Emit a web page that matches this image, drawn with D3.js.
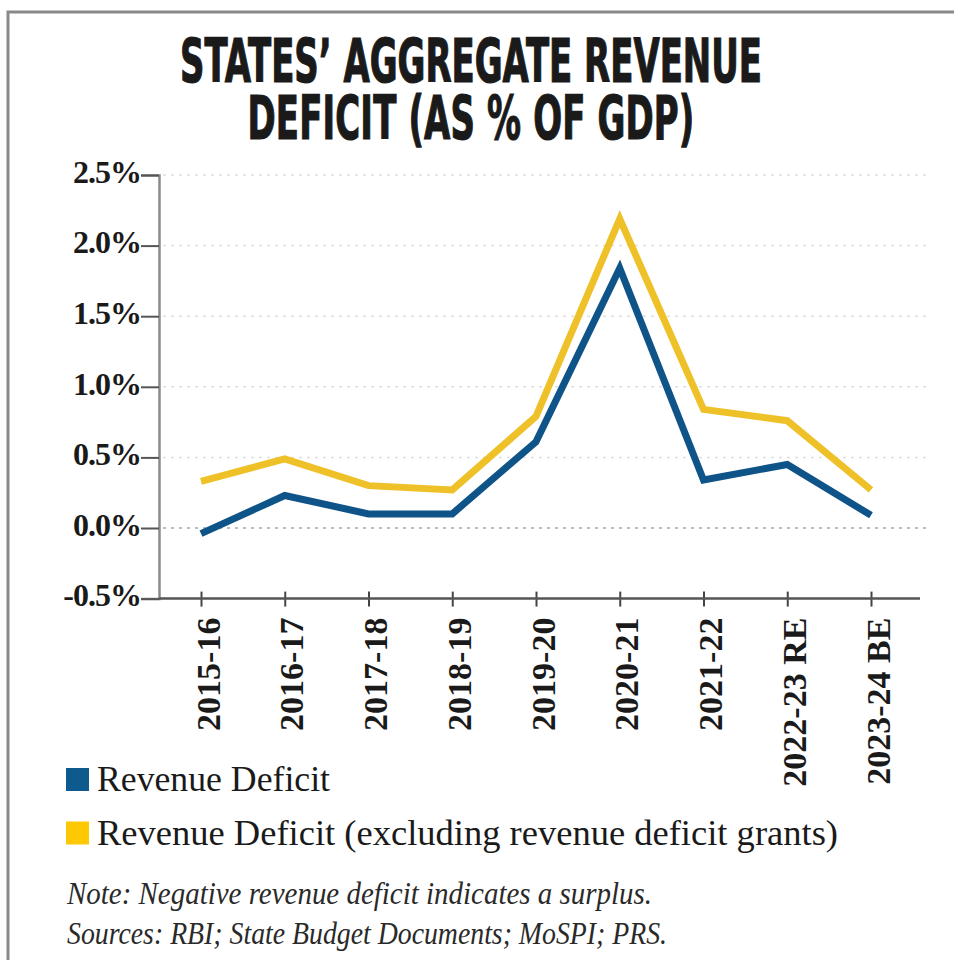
<!DOCTYPE html>
<html>
<head>
<meta charset="utf-8">
<script src="https://cdn.jsdelivr.net/npm/d3@7"></script>
<style>
  body { margin: 0; background: #fff; }
  svg { display: block; }
</style>
</head>
<body>
<svg id="chart" width="954" height="960"></svg>
<script>
const years = ['2015-16', '2016-17', '2017-18', '2018-19', '2019-20', '2020-21', '2021-22', '2022-23 RE', '2023-24 BE'];
const revenueDeficit = [-0.04, 0.23, 0.10, 0.10, 0.61, 1.84, 0.34, 0.45, 0.09];
const revenueDeficitExGrants = [0.33, 0.49, 0.30, 0.27, 0.79, 2.19, 0.84, 0.76, 0.27];
const yTicks = [-0.5, 0, 0.5, 1.0, 1.5, 2.0, 2.5];
const titleLines = ['STATES\u2019 AGGREGATE REVENUE', 'DEFICIT (AS % OF GDP)'];
const legendLabels = ['Revenue Deficit', 'Revenue Deficit (excluding revenue deficit grants)'];
const notes = ['Note: Negative revenue deficit indicates a surplus.', 'Sources: RBI; State Budget Documents; MoSPI; PRS.'];

const blue = '#0f5489';
const yellow = '#efc129';
const serif = '"Liberation Serif", "DejaVu Serif", serif';

const svg = d3.select('#chart');

// frame
svg.append('path')
    .attr('d', 'M8,962 L8,12 L960,12')
    .attr('fill', 'none')
    .attr('stroke', '#8a8a8a')
    .attr('stroke-width', 3);

// title: one text, two lines, squeezed to the width of the condensed original
const titleWidths = [582, 447];
const title = svg.append('text')
    .attr('text-anchor', 'middle')
    .attr('font-family', '"Liberation Sans Narrow", "DejaVu Sans Condensed", "Liberation Sans", sans-serif')
    .attr('font-weight', 700)
    .attr('font-size', 60)
    .attr('fill', '#1a1a1a')
    .attr('stroke', '#1a1a1a')
    .attr('stroke-width', 1.2);
const spans = title.selectAll('tspan')
  .data(titleLines)
  .join('tspan')
    .attr('x', 0)
    .attr('y', (d, i) => 82 + i * 57)
    .text(d => d);
const natural = spans.nodes().map(n => n.getComputedTextLength());
const sx = titleWidths[0] / natural[0];
spans.attr('letter-spacing', (d, i) => ((titleWidths[i] / sx - natural[i]) / d.length).toFixed(2));
title.attr('transform', `translate(471,0) scale(${sx},1)`);

const x = d3.scalePoint().domain(years).range([201, 871]);
const y = d3.scaleLinear().domain([-0.5, 2.5]).range([598.6, 175]);

// gridlines
svg.append('g').selectAll('line')
  .data(yTicks.filter(d => d > -0.5))
  .join('line')
    .attr('x1', 163)
    .attr('x2', 930)
    .attr('y1', d => y(d))
    .attr('y2', d => y(d))
    .attr('stroke', d => d === 0 ? '#a8a8a8' : '#dedede')
    .attr('stroke-width', 1.5)
    .attr('stroke-dasharray', '3,5');

// y axis
const yAxis = svg.append('g')
    .attr('transform', 'translate(159,0)')
    .call(d3.axisLeft(y).tickValues(yTicks).tickSize(18).tickPadding(0)
      .tickFormat(d => d.toFixed(1) + '%'));
yAxis.select('.domain').attr('stroke', '#8a8a8a').attr('stroke-width', 2.5);
yAxis.selectAll('.tick line').attr('stroke', '#555').attr('stroke-width', 2);
yAxis.selectAll('.tick text')
    .attr('font-family', serif)
    .attr('font-weight', 700)
    .attr('font-size', 32)
    .attr('letter-spacing', -1)
    .attr('fill', '#1a1a1a')
    .attr('dy', '0.23em');

// x axis
const xAxis = svg.append('g')
    .attr('transform', `translate(0,${y(-0.5)})`)
    .call(d3.axisBottom(x).tickSize(8).tickPadding(0));
xAxis.select('.domain').remove();
xAxis.append('line')
    .attr('x1', 159).attr('x2', 920)
    .attr('stroke', '#555').attr('stroke-width', 2.5);
xAxis.selectAll('.tick line').attr('y1', -7).attr('y2', 8).attr('stroke', '#444').attr('stroke-width', 2);
xAxis.selectAll('.tick text')
    .attr('font-family', serif)
    .attr('font-weight', 700)
    .attr('font-size', 34)
    .attr('fill', '#1a1a1a')
    .attr('text-anchor', 'end')
    .attr('transform', 'translate(0,19) rotate(-90)')
    .attr('x', 0)
    .attr('y', 0)
    .attr('dy', '0.53em');

// lines
const line = d3.line()
    .x((d, i) => x(years[i]))
    .y(d => y(d));

svg.append('path')
    .datum(revenueDeficitExGrants)
    .attr('fill', 'none')
    .attr('stroke', yellow)
    .attr('stroke-width', 7)
    .attr('stroke-linejoin', 'miter')
    .attr('d', line);

svg.append('path')
    .datum(revenueDeficit)
    .attr('fill', 'none')
    .attr('stroke', blue)
    .attr('stroke-width', 7)
    .attr('stroke-linejoin', 'miter')
    .attr('d', line);

// legend
const legend = svg.append('g').selectAll('g')
  .data(legendLabels)
  .join('g')
    .attr('transform', (d, i) => `translate(66,${768 + i * 53.5})`);
legend.append('rect')
    .attr('width', 23)
    .attr('height', 23)
    .attr('fill', (d, i) => i === 0 ? '#0e5a8e' : '#ffc805');
legend.append('text')
    .attr('x', 31)
    .attr('y', 23)
    .attr('font-family', serif)
    .attr('font-size', 35)
    .attr('fill', '#1a1a1a')
    .attr('textLength', (d, i) => i === 0 ? 233 : 741)
    .attr('lengthAdjust', 'spacingAndGlyphs')
    .text(d => d);

// notes
svg.append('g').selectAll('text')
  .data(notes)
  .join('text')
    .attr('x', 67)
    .attr('y', (d, i) => 904 + i * 40)
    .attr('font-family', serif)
    .attr('font-style', 'italic')
    .attr('font-size', 31)
    .attr('fill', '#2a2a2a')
    .attr('textLength', (d, i) => i === 0 ? 585 : 600)
    .attr('lengthAdjust', 'spacingAndGlyphs')
    .text(d => d);
</script>
</body>
</html>
